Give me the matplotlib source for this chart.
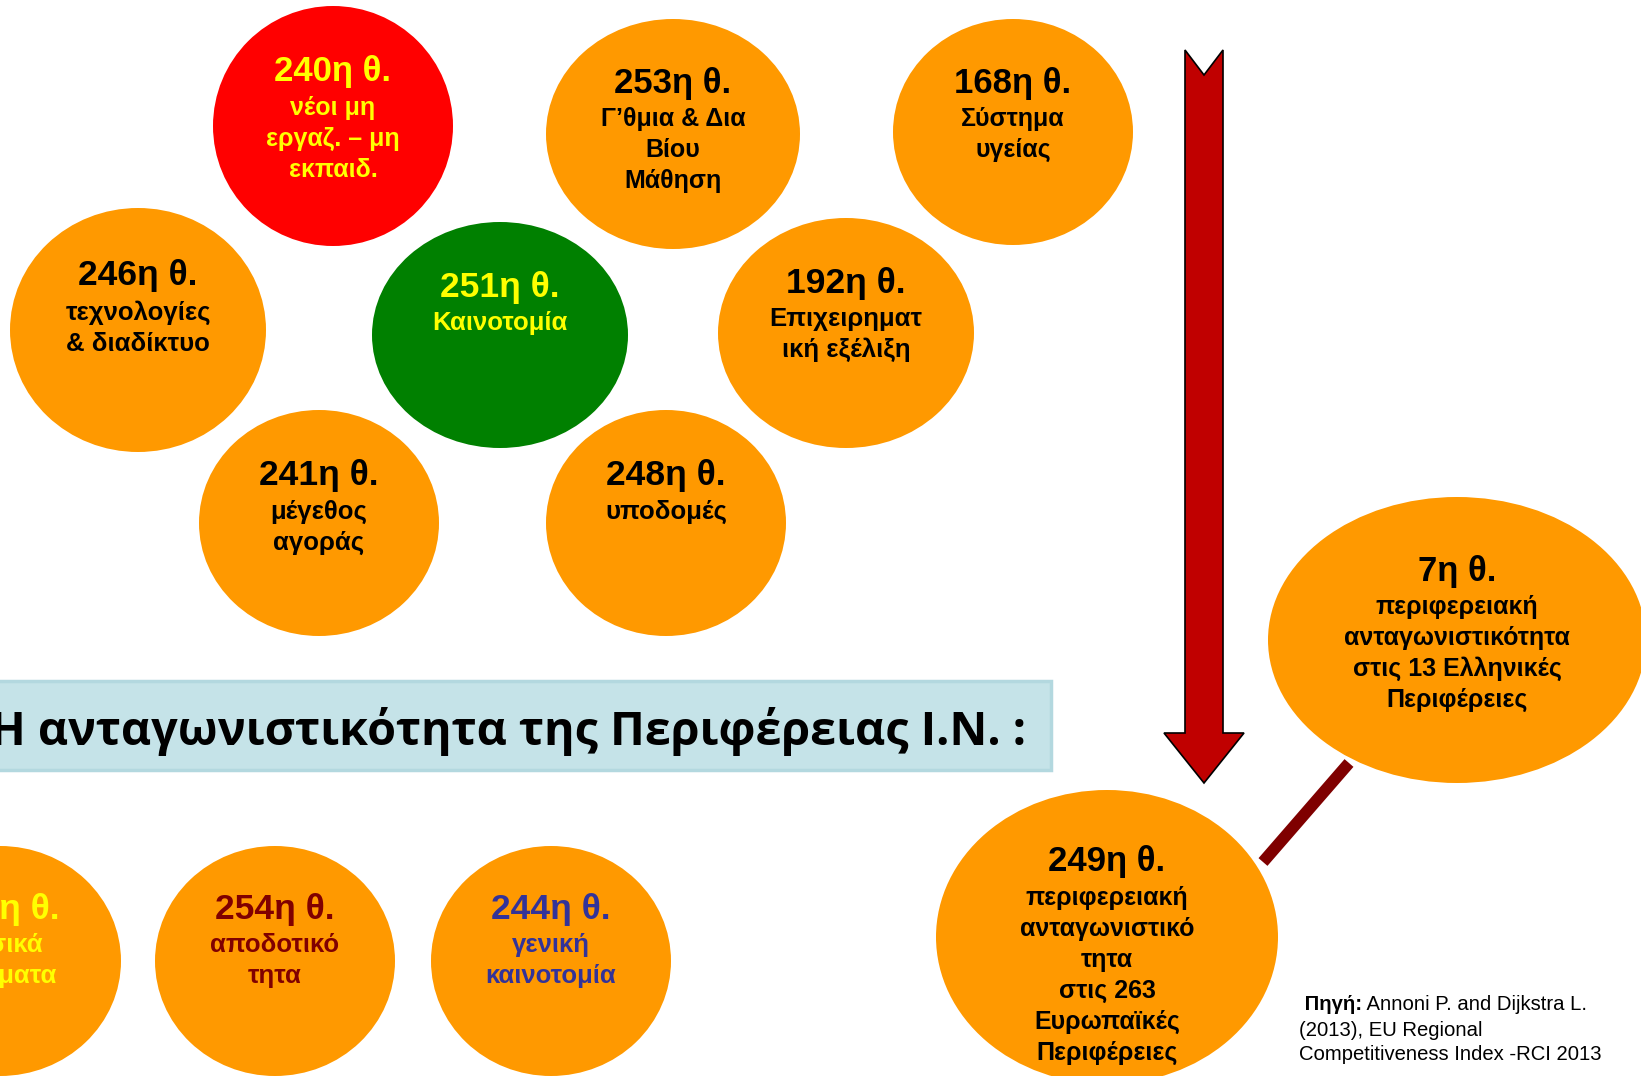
#!/usr/bin/env python3
# -*- coding: utf-8 -*-

import matplotlib.pyplot as plt
from matplotlib.patches import Ellipse, Polygon, Rectangle

# RCI 2013 ranks of the Ionian Islands region (pillars, sub-indices, overall)
pillar_ranks = [240, 253, 168, 246, 251, 192, 241, 248]
pillar_names = ["νέοι μη\nεργαζ. – μη\nεκπαιδ.",
                "Γ’θμια & Δια\nΒίου\nΜάθηση",
                "Σύστημα\nυγείας",
                "τεχνολογίες\n& διαδίκτυο",
                "Καινοτομία",
                "Επιχειρηματ\nική εξέλιξη",
                "μέγεθος\nαγοράς",
                "υποδομές"]
subindex_ranks = [245, 254, 244]
subindex_names = ["βασικά\nζητήματα", "αποδοτικό\nτητα", "γενική\nκαινοτομία"]
overall_ranks = [7, 249]
overall_names = ["περιφερειακή\nανταγωνιστικότητα\nστις 13 Ελληνικές\nΠεριφέρειες",
                 "περιφερειακή\nανταγωνιστικό\nτητα\nστις 263\nΕυρωπαϊκές\nΠεριφέρειες"]
title = "Η ανταγωνιστικότητα της Περιφέρειας Ι.Ν. :"
source_bold = " Πηγή:"
source_lines = [" Annoni P. and Dijkstra L.", "(2013), EU Regional",
                "Competitiveness Index -RCI 2013"]

ORANGE = "#FF9900"
ARIAL = ["Liberation Sans", "DejaVu Sans"]

# layout: (cx, cy, rx, ry, rank_y, label_y, fill, text colour, narrow)
pillar_layout = [
    (333, 126, 120, 120, 71, 108, "#FF0000", "#FFFF00", False),
    (673, 134, 127, 115, 84, 119, ORANGE, "black", False),
    (1013, 132, 120, 113, 84, 119, ORANGE, "black", False),
    (138, 330, 128, 122, 276, 313, ORANGE, "black", True),
    (500, 335, 128, 113, 288, 323, "#008000", "#FFFF00", True),
    (846, 333, 128, 115, 283, 319, ORANGE, "black", True),
    (319, 523, 120, 113, 476, 512, ORANGE, "black", True),
    (666, 523, 120, 113, 476, 512, ORANGE, "black", True),
]
subindex_layout = [
    (0, 961, 121, 115, 909, 945, ORANGE, "#FFFF00", True),
    (275, 961, 120, 115, 909, 945, ORANGE, "#800000", True),
    (551, 961, 120, 115, 909, 945, ORANGE, "#333399", True),
]
overall_layout = [
    (1457, 640, 189, 143, 571, 607, ORANGE, "black", False),
    (1107, 937, 171, 147, 862, 898, ORANGE, "black", False),
]


def bubble(ax, rank, name, lay):
    cx, cy, rx, ry, rank_y, label_y, fill, tc, narrow = lay
    ax.add_patch(Ellipse((cx, cy), 2 * rx, 2 * ry, facecolor=fill,
                         edgecolor="none", zorder=2))
    ax.text(cx, rank_y, "%dη θ." % rank, ha="center", va="center",
            color=tc, fontsize=25.5 if narrow else 25, fontweight="bold",
            family=ARIAL, zorder=3)
    for i, line in enumerate(name.split("\n")):
        ax.text(cx, label_y + i * 31, line, ha="center", va="center",
                color=tc, fontsize=18.5 if narrow else 18, fontweight="bold",
                family=ARIAL, zorder=3)


def main():
    fig = plt.figure(figsize=(16.41, 10.76), dpi=100)
    ax = fig.add_axes([0, 0, 1, 1])
    ax.set_xlim(0, 1641)
    ax.set_ylim(1076, 0)
    ax.axis("off")

    for r, n, lay in zip(pillar_ranks, pillar_names, pillar_layout):
        bubble(ax, r, n, lay)
    for r, n, lay in zip(subindex_ranks, subindex_names, subindex_layout):
        bubble(ax, r, n, lay)
    for r, n, lay in zip(overall_ranks, overall_names, overall_layout):
        bubble(ax, r, n, lay)

    # title banner
    ax.add_patch(Rectangle((-10, 681), 1061, 89, facecolor="#C5E3E8",
                           edgecolor="#B3D8DF", linewidth=2.5, zorder=2))
    ax.text(1026, 731, title, ha="right", va="center", fontsize=33.6,
            fontweight="bold", family=["Open Sans", "DejaVu Sans"],
            color="black", zorder=3)

    # big downward arrow
    arrow = [(1185, 50), (1204, 75), (1223, 50), (1223, 733), (1244, 733),
             (1204, 783), (1164, 733), (1185, 733)]
    ax.add_patch(Polygon(arrow, closed=True, facecolor="#C00000",
                         edgecolor="black", linewidth=1.2, zorder=4))

    # connector between the two overall bubbles
    ax.plot([1349, 1263], [763, 862], color="#7F0000", linewidth=8.5,
            solid_capstyle="butt", zorder=4)

    # source note
    t = ax.text(1299, 1005, source_bold, ha="left", va="center", fontsize=14.6,
                fontweight="bold", family=ARIAL, zorder=3)
    fig.canvas.draw()
    bb = t.get_window_extent()
    x_end = ax.transData.inverted().transform((bb.x1, bb.y0))[0]
    ax.text(x_end, 1005, source_lines[0], ha="left", va="center",
            fontsize=14.6, family=ARIAL, zorder=3)
    for i, line in enumerate(source_lines[1:]):
        ax.text(1299, 1030 + i * 24.5, line, ha="left", va="center",
                fontsize=14.6, family=ARIAL, zorder=3)

    fig.savefig("out.png", dpi=100, facecolor="white")


if __name__ == "__main__":
    main()
